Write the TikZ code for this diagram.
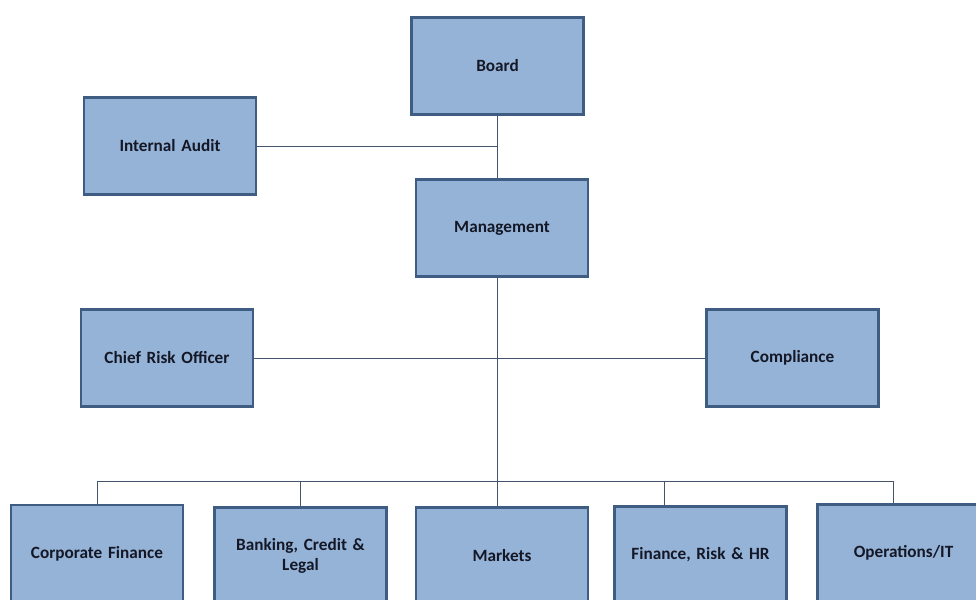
\documentclass[tikz,border=0pt]{standalone}
\usepackage{fontspec}
\setmainfont{Carlito}[BoldFont={Carlito Bold},WordSpace=0.8]
\frenchspacing
\definecolor{boxfill}{HTML}{95B3D7}
\definecolor{boxline}{HTML}{3F5C82}
\definecolor{conn}{HTML}{44546A}
\definecolor{txt}{HTML}{141826}
\begin{document}
\begin{tikzpicture}[x=1pt,y=-1pt,
  orgbox/.style={draw=boxline, line width=2.6pt, fill=boxfill, rectangle,
    minimum width=172pt, minimum height=97pt, inner sep=2pt,
    align=center, text width=165pt, font=\fontsize{17.2}{20.5}\selectfont\bfseries, text=txt},
  link/.style={draw=conn, line width=1pt}]
\clip (0,0) rectangle (976,599);
\fill[white] (0,0) rectangle (976,599);
% nodes
\node[orgbox] (board) at (497.5,66) {Board};
\node[orgbox] (audit) at (170,146) {Internal Audit};
\node[orgbox] (mgmt) at (502,228) {Management};
\node[orgbox] (cro) at (167,358) {Chief Risk Officer};
\node[orgbox] (comp) at (792.5,358) {Compliance};
\node[orgbox] (corp) at (97,553.5) {Corporate Finance};
\node[orgbox] (bank) at (300.5,556) {Banking, Credit \&\\Legal};
\node[orgbox] (mkt) at (502,556) {Markets};
\node[orgbox] (fin) at (700.5,555) {Finance, Risk \& HR};
\node[orgbox] (ops) at (903.5,553) {Operations/IT};
% coordinates
\coordinate (j1) at (497,146);
\coordinate (trunk) at (497,481);
\coordinate (busL) at (97,481);
\coordinate (busR) at (893,481);
\coordinate (dB) at (300.5,481);
\coordinate (dF) at (664,481);
% connectors
\draw[link] (board.south -| j1) -- (j1 |- mgmt.north);
\draw[link] (audit.east) -- (audit.east -| j1);
\draw[link] (j1 |- mgmt.south) -- (trunk);
\draw[link] (cro.east) -- (comp.west);
\draw[link] (busL) -- (busR);
\draw[link] (busL) -- (corp.north);
\draw[link] (dB) -- (bank.north);
\draw[link] (trunk) -- (trunk |- mkt.north);
\draw[link] (dF) -- (dF |- fin.north);
\draw[link] (busR) -- (busR |- ops.north);
\end{tikzpicture}
\end{document}
